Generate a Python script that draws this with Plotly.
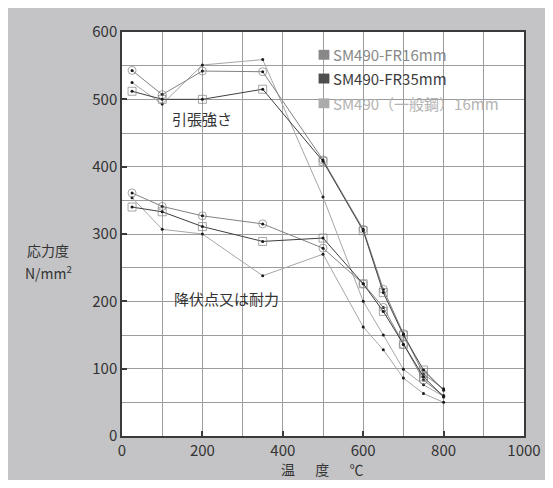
import plotly.graph_objects as go

# ---- data ----
temps = [25, 100, 200, 350, 500, 600, 650, 700, 750, 800]

fr16_tensile = [543, 507, 542, 541, 410, 307, 218, 152, 92, 70]
fr35_tensile = [512, 500, 500, 515, 408, 305, 213, 150, 98, 68]
gen_tensile = [525, 493, 551, 559, 355, 200, 150, 99, 76, 59]

fr16_yield = [361, 341, 327, 315, 279, 226, 191, 136, 83, 60]
fr35_yield = [340, 333, 311, 289, 294, 226, 185, 136, 88, 58]
gen_yield = [354, 307, 300, 238, 270, 162, 128, 86, 63, 50]

series_names = ["SM490-FR16mm", "SM490-FR35mm", "SM490（一般鋼）16mm"]
x_ticks = [0, 200, 400, 600, 800, 1000]
y_ticks = [0, 100, 200, 300, 400, 500, 600]

FONT = "Noto Sans CJK JP"
C16 = "#828282"
C35 = "#3e3e3e"
CGEN = "#a6a6a6"

fig = go.Figure()

def add_series(y, color, symbol):
    n = len(y)
    if symbol:
        sizes = [8] * (n - 1) + [0]
        fig.add_trace(go.Scatter(
            x=temps, y=y, mode="lines+markers",
            line=dict(color=color, width=1),
            marker=dict(symbol=symbol, size=sizes, color="#808080",
                        line=dict(color="#7a7a7a", width=1)),
            showlegend=False, hoverinfo="skip"))
    else:
        fig.add_trace(go.Scatter(
            x=temps, y=y, mode="lines",
            line=dict(color=color, width=1),
            showlegend=False, hoverinfo="skip"))
    fig.add_trace(go.Scatter(
        x=temps, y=y, mode="markers",
        marker=dict(symbol="circle", size=3, color="#1a1a1a"),
        showlegend=False, hoverinfo="skip"))

add_series(gen_tensile, CGEN, None)
add_series(gen_yield, CGEN, None)
add_series(fr16_tensile, C16, "circle-open")
add_series(fr16_yield, C16, "circle-open")
add_series(fr35_tensile, C35, "square-open")
add_series(fr35_yield, C35, "square-open")

OFF = 8  # page body margin
W, H = 545, 472
L, T = 114, 20
pw, ph = 409, 408
R = W - L - pw
B = H - T - ph

def px(x):
    return (x - OFF - L) / pw

def py(y):
    return (T + ph + OFF - y) / ph

def ann(text, x, y, size=15, color="#333333", xanchor="center"):
    return dict(text=text, x=px(x), y=py(y), xref="paper", yref="paper",
                xanchor=xanchor, yanchor="middle", showarrow=False,
                font=dict(family=FONT, size=size, color=color))

shapes = []
annotations = [
    ann("引張強さ", 203, 115),
    ann("降伏点又は耐力", 228, 297),
    ann("応力度", 47, 248, 14),
    ann("N/mm<sup>2</sup>", 47, 271, 14),
    ann("温　  度　  ℃", 326, 469, 14),
]

leg_sq = ["#888888", "#4e4e4e", "#ababab"]
leg_txt = ["#888888", "#3c3c3c", "#b2b2b2"]
leg_y = [51, 75, 100]
for name, sc, tc, yy in zip(series_names, leg_sq, leg_txt, leg_y):
    shapes.append(dict(type="rect", xref="paper", yref="paper",
                       x0=px(322), x1=px(333), y0=py(yy + 5), y1=py(yy - 5),
                       fillcolor=sc, line=dict(width=0)))
    annotations.append(ann(name, 335, yy, 15, tc, "left"))

axis_common = dict(
    showline=True, linecolor="#3a3a3a", linewidth=1.5, mirror=True,
    ticks="inside", ticklen=5, tickcolor="#3a3a3a", tickwidth=1.5,
    showgrid=True, gridcolor="#9c9c9c", gridwidth=1,
    zeroline=False,
    tickfont=dict(family=FONT, size=15, color="#333333"),
)

fig.update_xaxes(range=[0, 1000], tickvals=x_ticks,
                 minor=dict(dtick=100, showgrid=True, gridcolor="#9c9c9c", gridwidth=1),
                 **axis_common)
fig.update_yaxes(range=[0, 600], tickvals=y_ticks,
                 minor=dict(dtick=50, showgrid=True, gridcolor="#9c9c9c", gridwidth=1),
                 **axis_common)

fig.update_layout(
    width=W, height=H,
    margin=dict(l=L, r=R, t=T, b=B, pad=0),
    paper_bgcolor="#c4c4c6", plot_bgcolor="white",
    shapes=shapes, annotations=annotations,
    showlegend=False,
    font=dict(family=FONT),
)

fig.write_html("out.html")
